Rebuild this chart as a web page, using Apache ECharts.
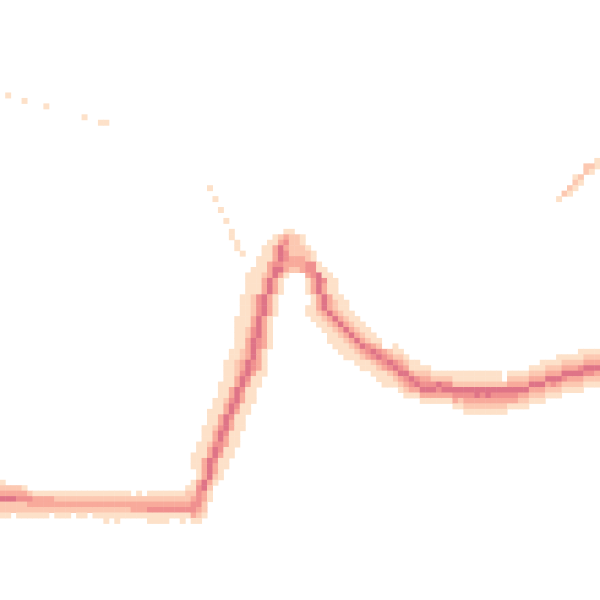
<!DOCTYPE html>
<html>
<head>
<meta charset="utf-8">
<script src="https://cdn.jsdelivr.net/npm/echarts@6/dist/echarts.min.js"></script>
<style>html,body{margin:0;padding:0;background:#fff}#chart{width:600px;height:600px}</style>
</head>
<body>
<div id="chart"></div>
<script>
// Grid size (columns x rows of the density heatmap)
const gridCols = 110;
const gridRows = 110;
const xCategories = Array.from({length: gridCols}, (_, i) => String(i));
const yCategories = Array.from({length: gridRows}, (_, i) => String(i));

// Vertical runs: [column, first row (from top), levels for consecutive rows; '0' = empty]
const columnRuns = [
  [0, 88, "1235221"], [1, 89, "235221"], [2, 89, "23522"], [3, 89, "234221"],
  [4, 89, "134221"], [5, 90, "24321"], [6, 90, "13321"], [7, 90, "13321"],
  [8, 90, "13321"], [9, 90, "1332"], [10, 90, "12321"], [11, 90, "12321"],
  [12, 90, "12321"], [13, 90, "1232"], [14, 90, "12321"], [15, 90, "12321"],
  [16, 90, "1232"], [17, 90, "12321"], [18, 90, "12321"], [19, 90, "123211"],
  [20, 90, "12321"], [21, 90, "123211"], [22, 90, "12321"], [23, 90, "12321"],
  [24, 91, "2331"], [25, 90, "12331"], [26, 91, "2331"], [27, 90, "123411"],
  [28, 90, "123411"], [29, 90, "123411"], [30, 90, "123411"], [31, 90, "12341"],
  [32, 90, "12341"], [33, 90, "123411"], [34, 89, "122341"], [35, 88, "11234431"],
  [36, 86, "1134444321"], [37, 86, "335533221"], [38, 86, "553211"], [39, 86, "321"],
  [40, 86, "11"],
  [72, 63, "11245321"], [73, 64, "12345321"], [74, 65, "12354321"], [75, 66, "1135431"],
  [76, 66, "1124531"], [77, 67, "1234531"], [78, 67, "1234531"], [79, 68, "124531"],
  [80, 68, "125431"], [81, 68, "124531"], [82, 68, "124531"], [83, 68, "1125431"],
  [84, 68, "1125421"], [85, 68, "11254321"], [86, 68, "11254321"], [87, 68, "11255321"],
  [88, 68, "11254321"], [89, 68, "11255321"], [90, 68, "11254321"], [91, 68, "11254321"],
  [92, 70, "254321"], [93, 68, "1235431"], [94, 68, "1235431"], [95, 68, "1235321"],
  [96, 68, "1235321"], [97, 67, "1235321"], [98, 67, "1235321"], [99, 66, "11235321"],
  [100, 66, "1235321"], [101, 66, "1235421"], [102, 65, "11235321"], [103, 65, "1235421"],
  [104, 65, "1235321"], [105, 65, "1235321"], [106, 64, "11245321"], [107, 64, "1235421"],
  [108, 64, "1235421"], [109, 64, "1235321"]
];

// Horizontal runs: [row, first column, levels for consecutive columns]
const rowRuns = [
  [42, 52, "11"], [43, 50, "123221"], [44, 49, "1134221"], [45, 48, "113532221"],
  [46, 48, "1135422221"], [47, 47, "11135433321"], [48, 47, "113443333441"],
  [49, 46, "11135532234411"], [50, 45, "11123531"], [50, 56, "34511"],
  [51, 45, "1113531"], [51, 56, "135411"], [52, 45, "1113531"], [52, 56, "135311"],
  [53, 45, "1113531"], [53, 56, "135311"],
  [54, 44, "1124531"], [54, 57, "135311"], [55, 44, "1124531"], [55, 57, "1353211"],
  [56, 44, "1124531"], [56, 56, "11353211"], [57, 44, "1124531"], [57, 56, "112353211"],
  [58, 43, "1113531"], [58, 57, "112353211"], [59, 43, "1113531"], [59, 58, "112353211"],
  [60, 43, "1124531"], [60, 59, "112353211"], [61, 43, "1124531"], [61, 60, "112353211"],
  [62, 43, "1135431"], [62, 60, "1112353211"], [63, 43, "1135431"], [63, 61, "111235432"],
  [64, 42, "1123531"], [64, 62, "1112345432"], [65, 42, "1123531"], [65, 63, "111234543"],
  [66, 41, "11235431"], [66, 65, "1112345"], [67, 41, "11235431"], [67, 66, "111234"],
  [68, 41, "11245311"], [68, 68, "1112"], [69, 41, "1135411"], [69, 69, "111"],
  [70, 40, "11135311"], [70, 70, "11"], [71, 40, "1135411"], [72, 40, "1135311"],
  [73, 39, "11245311"], [74, 39, "1135411"], [75, 38, "11135311"], [76, 38, "1135411"],
  [77, 38, "1135311"], [78, 37, "11245311"], [79, 37, "1135411"], [80, 37, "1135311"],
  [81, 36, "11244311"], [82, 36, "1135411"], [83, 35, "11135311"], [84, 35, "1135411"],
  [85, 35, "1135311"]
];

// Isolated cells: [column, row, level]
const sparseCells = [
  [1, 17, 1], [4, 18, 1], [8, 19, 1], [15, 21, 1], [18, 22, 1], [19, 22, 1],
  [38, 34, 1], [39, 36, 1], [40, 38, 1], [41, 40, 1], [42, 42, 1], [42, 43, 1],
  [43, 44, 1], [43, 45, 1], [44, 46, 1],
  [109, 29, 1], [109, 30, 1], [107, 30, 2], [108, 30, 2], [107, 31, 2], [108, 31, 1],
  [105, 32, 1], [106, 32, 2], [105, 33, 2], [106, 33, 1], [104, 34, 2], [105, 34, 1],
  [103, 35, 2], [104, 35, 1], [102, 36, 1]
];

const levelColors = ['#fde1c9', '#fcc8b1', '#f8aa9b', '#f0908f', '#df7487'];

const data = [];
columnRuns.forEach(([c, r0, s]) => {
  for (let i = 0; i < s.length; i++) {
    const v = +s[i];
    if (v > 0) data.push([c, r0 + i, v]);
  }
});
rowRuns.forEach(([r, c0, s]) => {
  for (let i = 0; i < s.length; i++) {
    const v = +s[i];
    if (v > 0) data.push([c0 + i, r, v]);
  }
});
sparseCells.forEach(d => data.push(d.slice()));

const chart = echarts.init(document.getElementById('chart'), null, {renderer: 'canvas'});
chart.setOption({
  animation: false,
  backgroundColor: '#ffffff',
  grid: {left: 0, right: 0, top: 0, bottom: 0, containLabel: false},
  xAxis: {type: 'category', data: xCategories, show: false, boundaryGap: true},
  yAxis: {type: 'category', data: yCategories, show: false, inverse: true, boundaryGap: true},
  visualMap: {
    type: 'piecewise', show: false, dimension: 2,
    pieces: levelColors.map((c, i) => ({value: i + 1, color: c}))
  },
  series: [{
    type: 'heatmap',
    data: data,
    itemStyle: {borderWidth: 0},
    emphasis: {disabled: true}
  }]
});
</script>
</body>
</html>
